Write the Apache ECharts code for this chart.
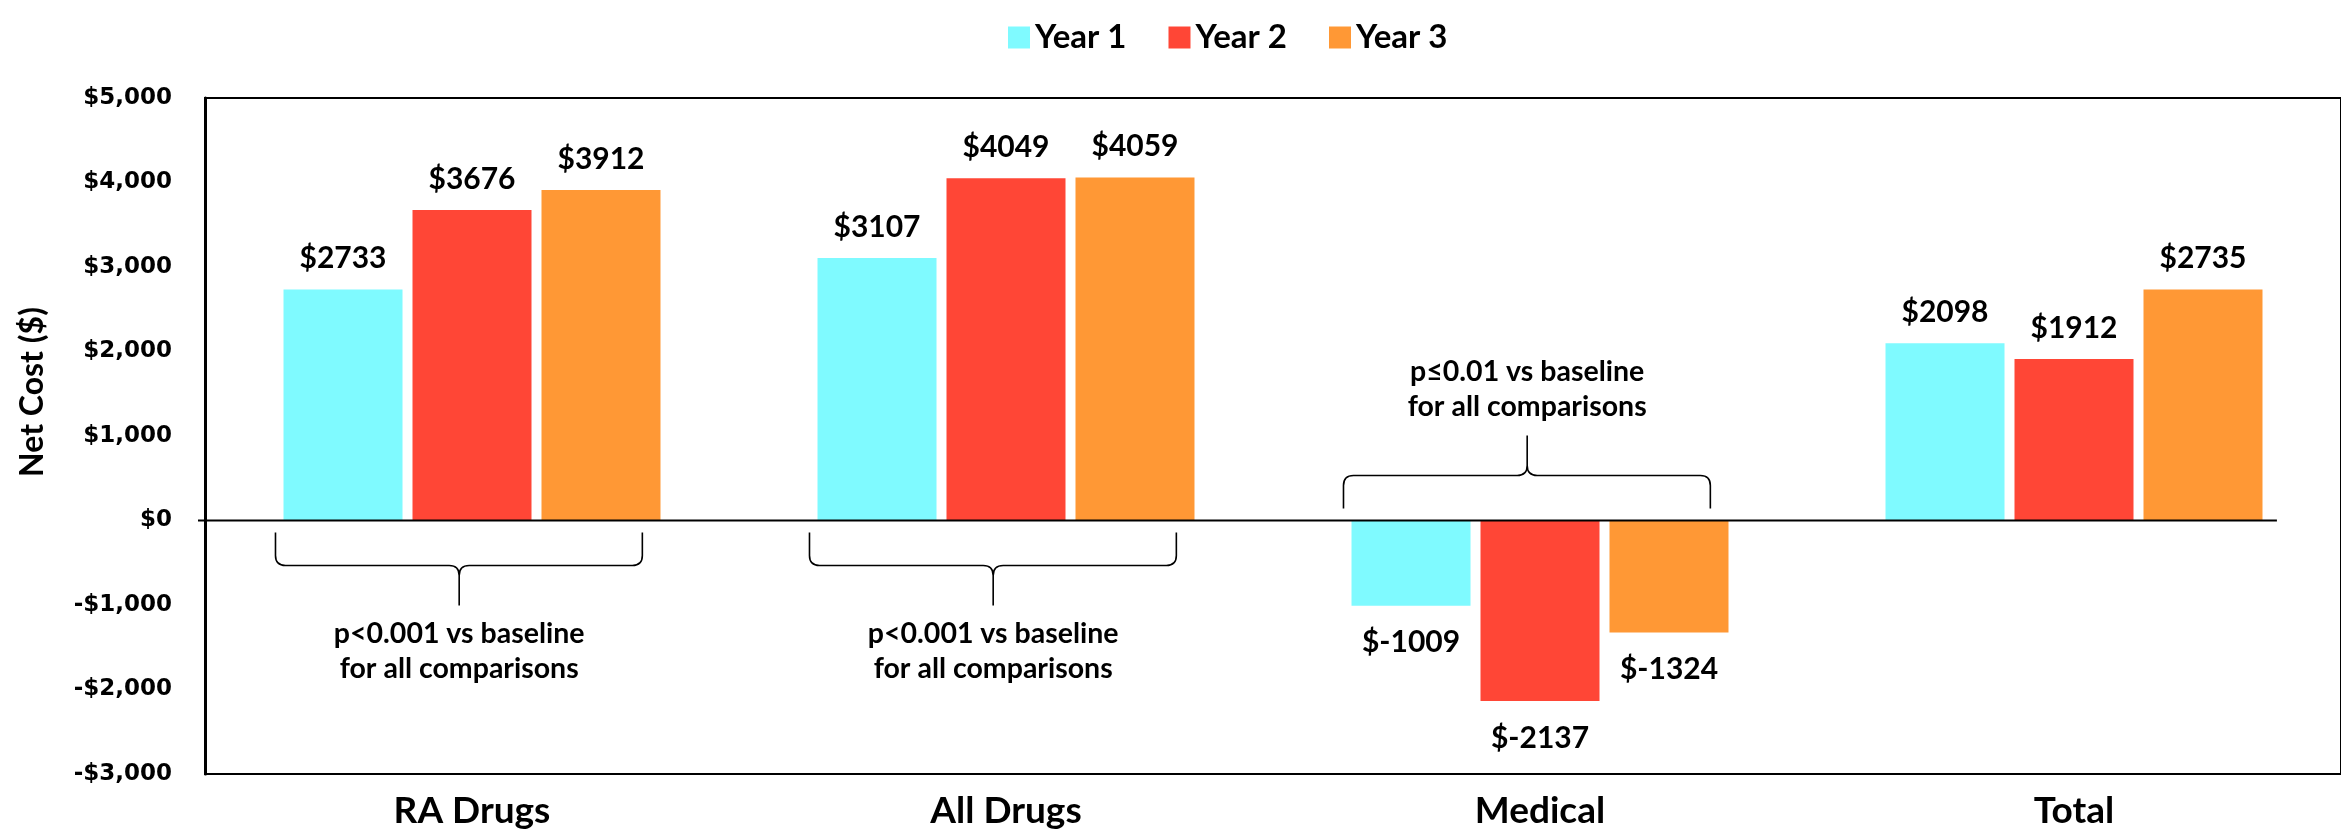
<!DOCTYPE html>
<html>
<head>
<meta charset="utf-8">
<script src="https://cdn.jsdelivr.net/npm/echarts@6/dist/echarts.min.js"></script>
<style>
html,body{margin:0;padding:0;background:#fff;}
#chart{width:2341px;height:830px;}
</style>
</head>
<body>
<div id="chart"></div>
<script>
const categories = ['RA Drugs', 'All Drugs', 'Medical', 'Total'];
const seriesNames = ['Year 1', 'Year 2', 'Year 3'];
const year1 = [2733, 3107, -1009, 2098];
const year2 = [3676, 4049, -2137, 1912];
const year3 = [3912, 4059, -1324, 2735];
const yMin = -3000, yMax = 5000, yInterval = 1000;
const yAxisTitle = 'Net Cost ($)';
const braceCategories = [0, 1, 2];
const braceSides = [-1, -1, 1];
const braceTexts = [
  'p<0.001 vs baseline\nfor all comparisons',
  'p<0.001 vs baseline\nfor all comparisons',
  'p\u22640.01 vs baseline\nfor all comparisons'
];
const colors = ['#7FFAFF', '#FF4636', '#FF9835'];

const FONT = 'Lato, "Open Sans", sans-serif';

function fmtTick(v) {
  const a = Math.abs(v).toLocaleString('en-US');
  return (v < 0 ? '-$' : '$') + a;
}

function barData(vals) {
  return vals.map(v => ({
    value: v,
    label: { position: v < 0 ? 'bottom' : 'top', distance: v < 0 ? 22 : 16 }
  }));
}

function renderBrace(params, api) {
  const ci = api.value(0);
  const side = api.value(1);
  const zero = api.coord([ci, 0]);
  const band = api.size([1, 0])[0];
  const cx = zero[0], y0 = zero[1];
  const s = side > 0 ? -1 : 1;
  const x0 = cx - band * 0.368, x1 = cx + band * 0.319, xm = cx - band * 0.024;
  const yE = y0 + s * 12, yH = y0 + s * 45, yT = y0 + s * 85, r = 10;
  const d = [
    'M', x0, yE, 'L', x0, yH - s * r, 'Q', x0, yH, x0 + r, yH,
    'L', xm - r, yH, 'Q', xm, yH, xm, yH + s * r, 'L', xm, yT,
    'M', xm, yH + s * r, 'Q', xm, yH, xm + r, yH,
    'L', x1 - r, yH, 'Q', x1, yH, x1, yH - s * r, 'L', x1, yE
  ].join(' ');
  return {
    type: 'group',
    children: [
      { type: 'path', shape: { pathData: d }, style: { stroke: '#000', lineWidth: 1.6, fill: null } },
      { type: 'text', style: {
          text: braceTexts[params.dataIndex], x: xm, y: y0 + s * 131,
          align: 'center', verticalAlign: 'middle',
          fontFamily: FONT, fontWeight: 'bold', fontSize: 28.5, lineHeight: 35, fill: '#000'
      } }
    ]
  };
}

const chart = echarts.init(document.getElementById('chart'), null, { renderer: 'canvas' });

const barSeries = [year1, year2, year3].map((vals, i) => ({
  name: seriesNames[i],
  type: 'bar',
  data: barData(vals),
  barWidth: 119,
  barGap: '8.4%',
  itemStyle: { color: colors[i] },
  label: {
    show: true,
    formatter: p => '$' + p.value,
    fontFamily: FONT, fontWeight: 'bold', fontSize: 30, color: '#000'
  }
}));

chart.setOption({
  animation: false,
  backgroundColor: '#fff',
  color: colors,
  legend: {
    data: seriesNames,
    left: 1003, top: 16,
    itemWidth: 22, itemHeight: 22, itemGap: 42,
    icon: 'rect',
    textStyle: { fontFamily: FONT, fontWeight: 'bold', fontSize: 33, color: '#000' }
  },
  grid: {
    left: 205, top: 98, width: 2160, bottom: 55,
    show: true, borderColor: '#000', borderWidth: 2, backgroundColor: 'transparent'
  },
  xAxis: {
    type: 'category',
    data: categories,
    position: 'bottom',
    axisLine: { show: false, onZero: false },
    axisTick: { show: false },
    axisLabel: { margin: 19, fontFamily: FONT, fontWeight: 'bold', fontSize: 37, color: '#000' }
  },
  yAxis: {
    type: 'value',
    min: yMin, max: yMax, interval: yInterval,
    axisLine: { show: true, lineStyle: { color: '#000', width: 3 } },
    axisTick: { show: false },
    splitLine: { show: false },
    axisLabel: {
      formatter: fmtTick, margin: 33,
      fontFamily: '"DejaVu Sans", sans-serif', fontWeight: 'bold', fontSize: 23, color: '#000'
    }
  },
  series: barSeries.concat([{
    type: 'custom',
    name: 'braces',
    silent: true,
    z: 5,
    data: braceCategories.map((c, i) => [c, braceSides[i]]),
    renderItem: renderBrace
  }])
});

// zero baseline and y-axis title
const y0 = chart.convertToPixel({ yAxisIndex: 0 }, 0);
const yTop = chart.convertToPixel({ yAxisIndex: 0 }, yMax);
const yBot = chart.convertToPixel({ yAxisIndex: 0 }, yMin);
const c0 = chart.convertToPixel({ xAxisIndex: 0 }, 0);
const c1 = chart.convertToPixel({ xAxisIndex: 0 }, 1);
const c3 = chart.convertToPixel({ xAxisIndex: 0 }, categories.length - 1);
const band = c1 - c0;
chart.setOption({
  graphic: [{
    type: 'line', z: 10,
    shape: { x1: c0 - band / 2 - 7, y1: y0, x2: c3 + band * 0.38, y2: y0 },
    style: { stroke: '#000', lineWidth: 2 }
  }, {
    type: 'text', z: 10,
    x: 33, y: (yTop + yBot) / 2 - 44, rotation: Math.PI / 2,
    style: {
      text: yAxisTitle, align: 'center', verticalAlign: 'middle',
      fontFamily: FONT, fontWeight: 'bold', fontSize: 32, fill: '#000'
    }
  }]
});
</script>
</body>
</html>
